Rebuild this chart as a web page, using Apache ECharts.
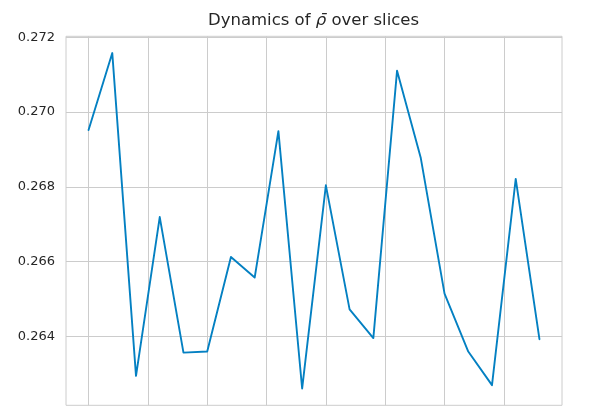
<!DOCTYPE html>
<html>
<head>
<meta charset="utf-8">
<script src="https://cdn.jsdelivr.net/npm/echarts@6/dist/echarts.min.js"></script>
<style>
html, body { margin: 0; padding: 0; background: #ffffff; }
#chart { width: 606px; height: 408px; }
</style>
</head>
<body>
<div id="chart"></div>
<script>
// Data
var sliceIndex = [0, 1, 2, 3, 4, 5, 6, 7, 8, 9, 10, 11, 12, 13, 14, 15, 16, 17, 18, 19];
var rhoBar = [0.26952, 0.27158, 0.26294, 0.26719, 0.26356, 0.26359, 0.26612, 0.26557, 0.26949, 0.26260,
              0.26804, 0.26472, 0.26395, 0.27111, 0.26877, 0.26514, 0.26359, 0.26269, 0.26821, 0.26392];
var yTicks = [0.264, 0.266, 0.268, 0.270, 0.272];
var xTicks = [0, 2.5, 5, 7.5, 10, 12.5, 15, 17.5];
var titleText = 'Dynamics of {i|ρ̄} over slices';

var xMin = -0.95, xMax = 19.95;
var yMin = 0.262151, yMax = 0.272029;

var chart = echarts.init(document.getElementById('chart'), null, { renderer: 'canvas' });
var FONT = 'DejaVu Sans';
var TXT = '#262626';
var GRID = '#cccccc';

chart.setOption({
  backgroundColor: '#ffffff',
  animation: false,
  title: {
    text: titleText,
    left: 208,
    top: 11,
    padding: 0,
    textStyle: {
      fontFamily: FONT,
      fontSize: 16.5,
      fontWeight: 'normal',
      color: TXT,
      lineHeight: 20,
      rich: {
        i: { fontFamily: FONT, fontSize: 16.5, fontStyle: 'italic', color: TXT, lineHeight: 20 }
      }
    }
  },
  grid: {
    left: 66,
    right: 44,
    top: 36.3,
    bottom: 2.7,
    show: true,
    borderColor: GRID,
    borderWidth: 1,
    backgroundColor: '#ffffff',
    containLabel: false
  },
  xAxis: {
    type: 'value',
    min: xMin,
    max: xMax,
    axisLine: { show: false },
    axisTick: { show: false, customValues: xTicks },
    axisLabel: { show: false, customValues: xTicks },
    splitLine: { show: true, lineStyle: { color: GRID, width: 1 } }
  },
  yAxis: {
    type: 'value',
    min: yMin,
    max: yMax,
    axisLine: { show: false },
    axisTick: { show: false, customValues: yTicks },
    axisLabel: {
      show: true,
      customValues: yTicks,
      margin: 11,
      fontFamily: FONT,
      fontSize: 13,
      color: TXT,
      formatter: function (v) { return v.toFixed(3); }
    },
    splitLine: { show: true, lineStyle: { color: GRID, width: 1 } }
  },
  series: [{
    type: 'line',
    data: sliceIndex.map(function (x, i) { return [x, rhoBar[i]]; }),
    showSymbol: false,
    symbol: 'none',
    lineStyle: { color: '#0480c2', width: 1.9, join: 'round', cap: 'round' },
    silent: true
  }]
});
</script>
</body>
</html>
